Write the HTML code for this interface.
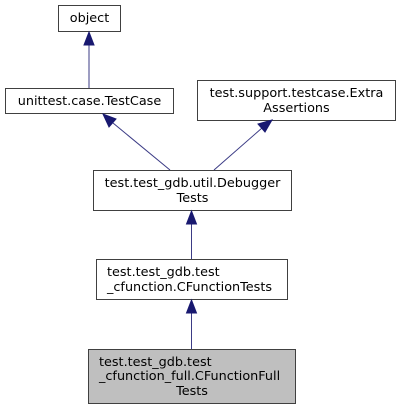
<!DOCTYPE html>
<html><head><style>html,body{margin:0;padding:0;background:#fff}</style></head><body>
<svg width="400" height="409" xmlns="http://www.w3.org/2000/svg" font-family="DejaVu Sans, Liberation Sans, sans-serif" font-size="12.8" fill="#000">
<g stroke="#404040" stroke-width="1">
<rect x="58.5" y="5.5" width="62" height="26" fill="#fff"/>
<rect x="5.5" y="88.5" width="168" height="25" fill="#fff"/>
<rect x="197.5" y="80.5" width="198" height="40" fill="#fff"/>
<rect x="93.5" y="170.5" width="198" height="40" fill="#fff"/>
<rect x="96.5" y="259.5" width="191" height="40" fill="#fff"/>
<rect x="88.5" y="349.5" width="207" height="54" fill="#bfbfbf"/>
</g>
<g stroke="#191970" stroke-width="1" fill="none" opacity="0.85">
<line x1="89" y1="88" x2="89" y2="45"/>
<line x1="170" y1="170" x2="113" y2="123"/>
<line x1="214" y1="170" x2="262" y2="128"/>
<line x1="191.5" y1="259" x2="191.5" y2="224"/>
<line x1="191.5" y1="349" x2="191.5" y2="313"/>
</g>
<g fill="#191970" stroke="#191970">
<polygon points="89,32 84,45 94,45"/>
<polygon points="103,114 109,127 116,119"/>
<polygon points="272,120 258,124 265,132"/>
<polygon points="191.5,211 186.5,224 196.5,224"/>
<polygon points="191.5,300 186.5,313 196.5,313"/>
</g>
<g text-anchor="middle">
<text x="89.5" y="22">object</text>
<text x="89.5" y="105">unittest.case.TestCase</text>
<text x="296.5" y="97">test.support.testcase.Extra</text>
<text x="296.5" y="112">Assertions</text>
<text x="192.5" y="187">test.test_gdb.util.Debugger</text>
<text x="192.5" y="202">Tests</text>
<text x="192" y="395">Tests</text>
</g>
<text x="107" y="276">test.test_gdb.test</text>
<text x="107" y="291">_cfunction.CFunctionTests</text>
<text x="99" y="366">test.test_gdb.test</text>
<text x="99" y="380">_cfunction_full.CFunctionFull</text>
</svg>
</body></html>
